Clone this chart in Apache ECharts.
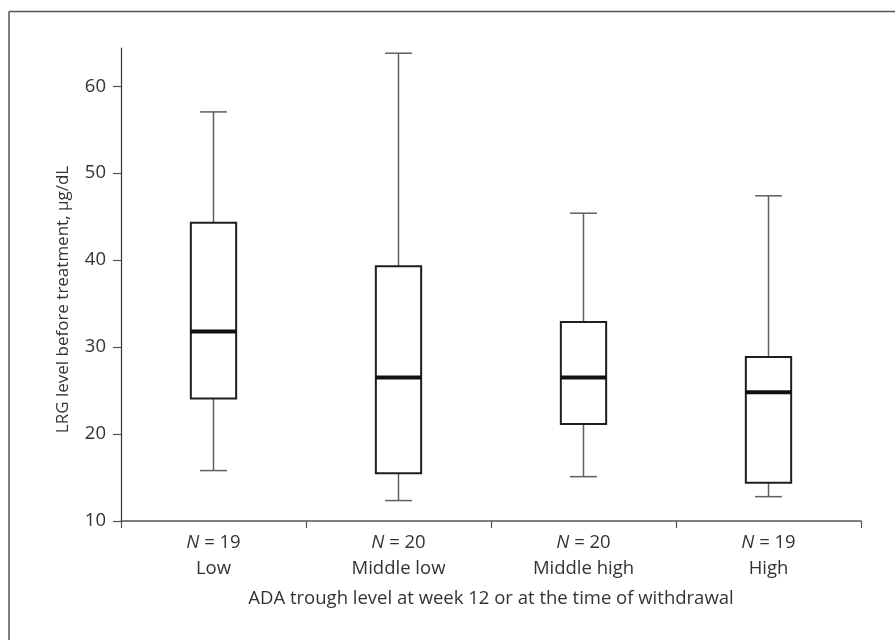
<!DOCTYPE html>
<html>
<head>
<meta charset="utf-8">
<script src="https://cdn.jsdelivr.net/npm/echarts@6/dist/echarts.min.js"></script>
<style>
html,body{margin:0;padding:0;background:#fff;}
#c{width:895px;height:640px;}
</style>
</head>
<body>
<div id="c"></div>
<script>
// ---- data ----
const categories = ['Low', 'Middle low', 'Middle high', 'High'];
const nValues = [19, 20, 20, 19];
const mins = [15.8, 12.35, 15.1, 12.8];
const q1s = [24.1, 15.5, 21.15, 14.4];
const medians = [31.8, 26.5, 26.5, 24.8];
const q3s = [44.3, 39.3, 32.9, 28.85];
const maxs = [57.05, 63.8, 45.4, 47.4];
const yTicks = [10, 20, 30, 40, 50, 60];
const yTitle = 'LRG level before treatment, μg/dL';
const xTitle = 'ADA trough level at week 12 or at the time of withdrawal';

const FONT = "'Open Sans', 'Noto Sans', sans-serif";
const TXT = '#333';
const FS = 18.5;

const boxData = categories.map((c, i) => [i, mins[i], q1s[i], medians[i], q3s[i], maxs[i]]);

function renderBox(params, api) {
  const i = api.value(0);
  const band = api.size([1, 0])[0];
  const pMin = api.coord([i, api.value(1)]);
  const pQ1 = api.coord([i, api.value(2)]);
  const pMed = api.coord([i, api.value(3)]);
  const pQ3 = api.coord([i, api.value(4)]);
  const pMax = api.coord([i, api.value(5)]);
  const cx = pMed[0];
  const bw = band * 0.245;
  const cw = band * 0.145;
  const whiskerStyle = { stroke: '#5e5e5e', lineWidth: 1.5, fill: null };
  return {
    type: 'group',
    children: [
      { type: 'line', shape: { x1: cx, y1: pQ3[1], x2: cx, y2: pMax[1] }, style: whiskerStyle },
      { type: 'line', shape: { x1: cx, y1: pQ1[1], x2: cx, y2: pMin[1] }, style: whiskerStyle },
      { type: 'line', shape: { x1: cx - cw / 2, y1: pMax[1], x2: cx + cw / 2, y2: pMax[1] }, style: whiskerStyle },
      { type: 'line', shape: { x1: cx - cw / 2, y1: pMin[1], x2: cx + cw / 2, y2: pMin[1] }, style: whiskerStyle },
      { type: 'rect', shape: { x: cx - bw / 2, y: pQ3[1], width: bw, height: pQ1[1] - pQ3[1] },
        style: { fill: '#fff', stroke: '#1e1e1e', lineWidth: 2 } },
      { type: 'line', shape: { x1: cx - bw / 2, y1: pMed[1], x2: cx + bw / 2, y2: pMed[1] },
        style: { stroke: '#111', lineWidth: 4 } }
    ]
  };
}

const chart = echarts.init(document.getElementById('c'), null, { renderer: 'canvas' });
chart.setOption({
  animation: false,
  backgroundColor: '#fff',
  textStyle: { fontFamily: FONT },
  grid: { left: 121, right: 34, top: 48, bottom: 119 },
  xAxis: {
    type: 'category',
    data: categories,
    boundaryGap: true,
    name: xTitle,
    nameLocation: 'middle',
    nameGap: 68,
    nameTextStyle: { fontSize: FS, color: TXT, fontFamily: FONT },
    axisLine: { lineStyle: { color: '#555', width: 1.5 } },
    axisTick: { show: true, length: 7, alignWithLabel: false, lineStyle: { color: '#555', width: 1.2 } },
    splitLine: { show: false },
    axisLabel: {
      margin: 9,
      fontSize: FS,
      color: TXT,
      lineHeight: 26,
      fontFamily: FONT,
      interval: 0,
      formatter: function (v, idx) {
        return '{i|N}{n| = ' + nValues[idx] + '}\n{n|' + v + '}';
      },
      rich: {
        i: { fontStyle: 'italic', fontSize: FS, color: TXT, lineHeight: 26, fontFamily: FONT },
        n: { fontSize: FS, color: TXT, lineHeight: 26, fontFamily: FONT }
      }
    }
  },
  yAxis: {
    type: 'value',
    min: 10,
    max: 64.4,
    name: yTitle,
    nameLocation: 'middle',
    nameGap: 49,
    nameRotate: 90,
    nameTextStyle: { fontSize: 17, color: TXT, fontFamily: FONT, padding: [0, 30, 0, 0] },
    axisLine: { show: true, lineStyle: { color: '#333', width: 1.2 } },
    axisTick: { show: true, length: 8, customValues: yTicks, lineStyle: { color: '#555', width: 1.2 } },
    splitLine: { show: false },
    axisLabel: { customValues: yTicks, margin: 15, fontSize: FS, color: TXT, fontFamily: FONT }
  },
  graphic: [
    { type: 'line', shape: { x1: 9, y1: 11.5, x2: 895, y2: 11.5 }, style: { stroke: '#555', lineWidth: 1.5 } },
    { type: 'line', shape: { x1: 9, y1: 11.5, x2: 9, y2: 640 }, style: { stroke: '#555', lineWidth: 1.5 } }
  ],
  series: [{
    type: 'custom',
    renderItem: renderBox,
    encode: { x: 0, y: [1, 2, 3, 4, 5] },
    data: boxData,
    clip: false
  }]
});
</script>
</body>
</html>
